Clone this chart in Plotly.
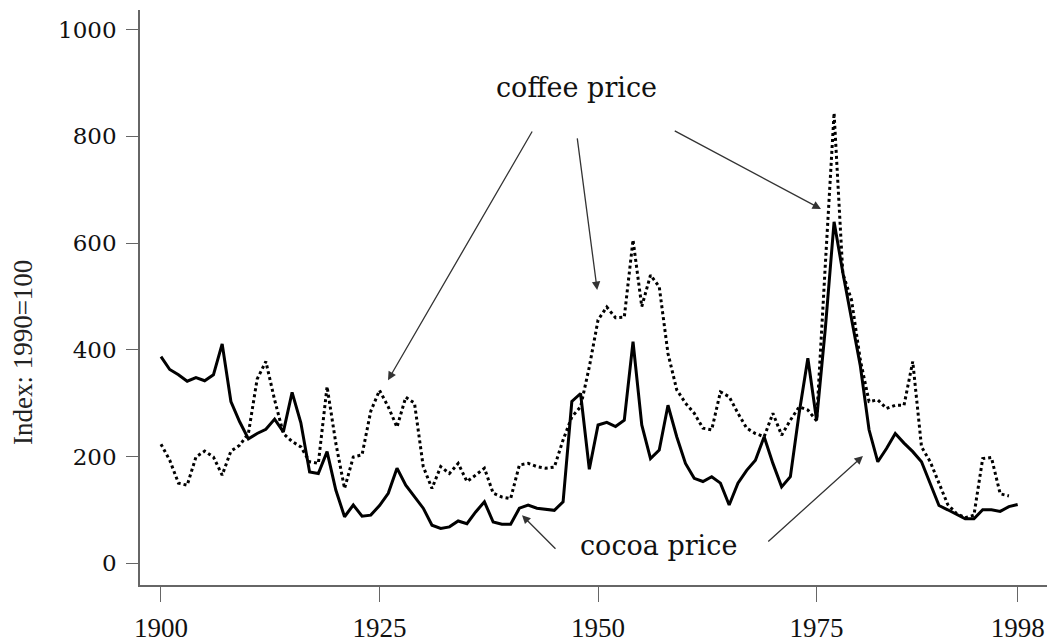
import plotly.graph_objects as go

years_cocoa = list(range(1900, 1999))
cocoa = [387, 363, 353, 341, 348, 342, 353, 411, 303, 265,
         233, 243, 251, 270, 246, 320, 263, 171, 168, 209,
         137, 87, 109, 88, 90, 108, 131, 178, 146, 124,
         103, 71, 65, 68, 79, 74, 96, 115, 77, 73,
         73, 103, 109, 103, 101, 99, 115, 303, 318, 176,
         259, 264, 256, 268, 415, 259, 196, 212, 296, 237,
         187, 159, 153, 162, 150, 109, 150, 174, 193, 237,
         187, 143, 162, 281, 384, 268, 440, 640, 545, 455,
         370, 250, 190, 215, 243, 225, 209, 190, 150, 108,
         100, 92, 83, 83, 100, 100, 97, 106, 110]

years_coffee = list(range(1900, 1998))
coffee = [223, 193, 150, 146, 199, 210, 199, 165, 210, 221,
          243, 345, 378, 306, 243, 228, 218, 190, 187, 331,
          225, 140, 199, 203, 285, 324, 293, 255, 311, 300,
          181, 140, 181, 168, 187, 153, 165, 178, 131, 124,
          121, 184, 187, 181, 178, 180, 231, 274, 293, 368,
          456, 480, 460, 461, 606, 481, 540, 518, 393, 325,
          300, 281, 253, 250, 321, 312, 281, 253, 243, 237,
          281, 240, 268, 293, 287, 267, 560, 844, 543, 493,
          381, 303, 306, 290, 296, 296, 378, 218, 190, 150,
          110, 93, 85, 90, 196, 198, 130, 126]

x_ticks = [1900, 1925, 1950, 1975, 1998]
y_ticks = [0, 200, 400, 600, 800, 1000]

fig = go.Figure()
fig.add_trace(go.Scatter(x=years_coffee, y=coffee, mode="lines",
                         line=dict(color="black", width=3, dash="dot"),
                         name="coffee price"))
fig.add_trace(go.Scatter(x=years_cocoa, y=cocoa, mode="lines",
                         line=dict(color="black", width=3),
                         name="cocoa price"))

serif_cent = "DejaVu Serif"
serif_times = "Liberation Serif"

ann = []
ann.append(dict(x=1947.5, y=891, text="coffee price", showarrow=False,
                font=dict(family=serif_cent, size=27, color="#111")))
ann.append(dict(x=1956.9, y=34, text="cocoa price", showarrow=False,
                font=dict(family=serif_cent, size=27, color="#111")))

arrows = [
    (1925.97, 343, 1942.56, 812),
    (1949.9, 512, 1947.6, 799),
    (1975.5, 664, 1958.6, 812),
    (1941.3, 90, 1945.3, 24),
    (1980.3, 201, 1969.3, 38),
]
for hx, hy, tx, ty in arrows:
    ann.append(dict(x=hx, y=hy, ax=tx, ay=ty, axref="x", ayref="y",
                    xref="x", yref="y", text="", showarrow=True,
                    arrowhead=2, arrowsize=1.3, arrowwidth=1.3,
                    arrowcolor="#333", standoff=0, startstandoff=0))

ann.append(dict(xref="paper", yref="paper", x=-0.1286, y=0.405,
                text="Index: 1990=100", textangle=-90, showarrow=False,
                xanchor="center", yanchor="middle",
                font=dict(family=serif_times, size=27, color="#222")))

fig.update_layout(
    width=1047, height=634,
    margin=dict(l=132, r=5, t=2, b=57),
    paper_bgcolor="white", plot_bgcolor="white",
    showlegend=False,
    annotations=ann,
    xaxis=dict(range=[1897.6, 2001.7], tickvals=x_ticks,
               ticktext=[str(v) for v in x_ticks],
               showgrid=False, zeroline=False, showline=True,
               linecolor="#666", linewidth=1.5,
               ticks="outside", ticklen=15, tickwidth=1.3, tickcolor="#666",
               ticklabelstandoff=3, automargin=False,
               tickfont=dict(family=serif_times, size=27, color="#111")),
    yaxis=dict(range=[-41, 1037], tickvals=y_ticks,
               showgrid=False, zeroline=False, showline=True,
               linecolor="#666", linewidth=1.5,
               ticks="outside", ticklen=12, tickwidth=1.3, tickcolor="#666",
               ticklabelstandoff=5, automargin=False,
               tickfont=dict(family=serif_cent, size=23, color="#111")),
)

fig.write_html("out.html")
